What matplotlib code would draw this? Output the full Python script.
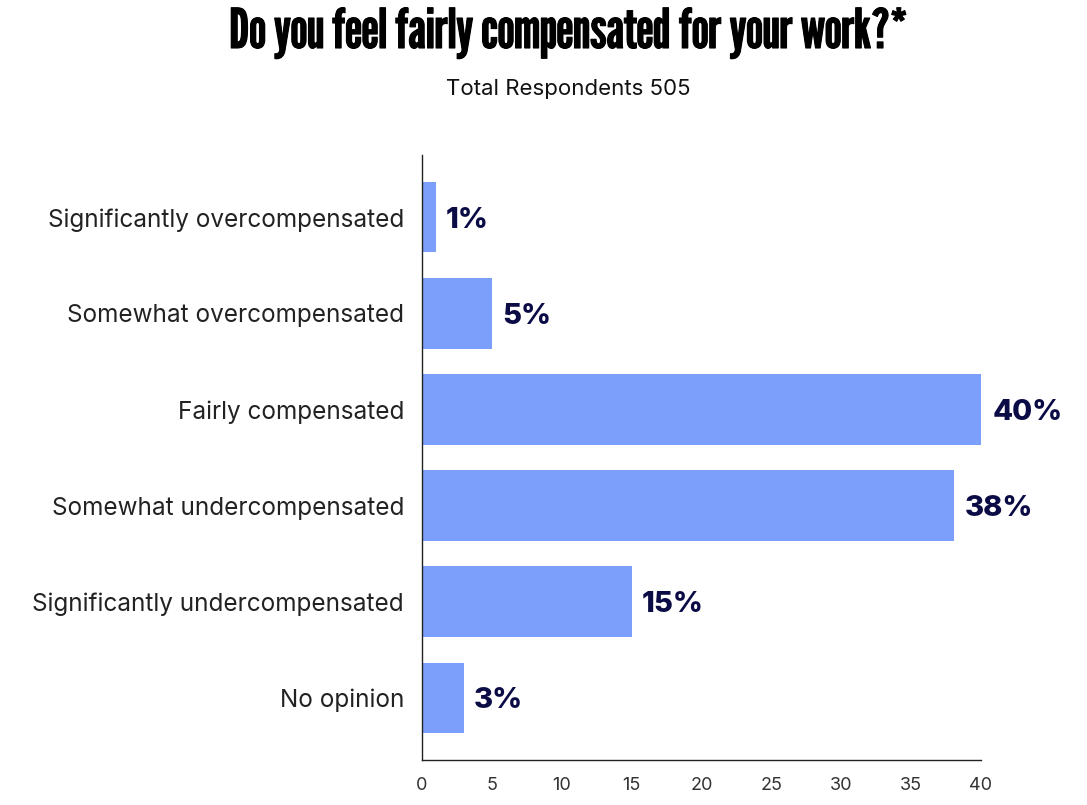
import matplotlib
matplotlib.use("Agg")
import matplotlib.pyplot as plt
import matplotlib.font_manager as fm
import matplotlib.patheffects as pe

categories = ["Significantly overcompensated", "Somewhat overcompensated", "Fairly compensated",
              "Somewhat undercompensated", "Significantly undercompensated", "No opinion"]
values = [1.0, 5.0, 40.1, 38.1, 15.0, 3.0]
labels = ["1%", "5%", "40%", "38%", "15%", "3%"]
xticks = [0, 5, 10, 15, 20, 25, 30, 35, 40]

title = "Do you feel fairly compensated for your work?*"
subtitle = "Total Respondents 505"

available = set(f.name for f in fm.fontManager.ttflist)
def pick(*cands):
    for c in cands:
        if c in available:
            return [c, "DejaVu Sans"]
    return ["DejaVu Sans"]

title_font = pick("League Gothic", "Anton")
body_font = pick("Inter")

fig = plt.figure(figsize=(10.87, 8.05), dpi=100)
ax = fig.add_axes([422/1087, 1-760/805, (981-422)/1087, (760-155)/805])

y = list(range(len(categories)))
ax.barh(y, values, height=0.73, color="#7B9FFB", zorder=2)
ax.set_ylim(5.65, -0.65)
ax.set_xlim(0, 40)
ax.set_yticks(y)
ax.set_yticklabels(categories, fontsize=17.5, family=body_font, color="#222222")
ax.set_xticks(xticks)
ax.set_xticklabels([str(t) for t in xticks], fontsize=13, family=body_font, color="#333333")
ax.tick_params(axis="both", length=0)
ax.tick_params(axis="y", pad=13)
ax.tick_params(axis="x", pad=12)
for s in ["top", "right"]:
    ax.spines[s].set_visible(False)
for s in ["left", "bottom"]:
    ax.spines[s].set_color("#222222")
    ax.spines[s].set_linewidth(1.0)

for yi, v, lab in zip(y, values, labels):
    ax.annotate(lab, (v, yi), xytext=(10, -3), textcoords="offset pixels",
                va="center", ha="left", fontsize=21, fontweight="heavy", family=body_font,
                color="#0B0B45", annotation_clip=False)

t = fig.text(568/1087, 1-48/805, title, ha="center", va="baseline", fontsize=40,
             family=title_font, color="#000000",
             path_effects=[pe.withStroke(linewidth=0.8, foreground="#000000")])
fig.canvas.draw()
w = t.get_window_extent(fig.canvas.get_renderer()).width
t.set_fontsize(40 * 678 / w)

fig.text(568/1087, 1-89/805, subtitle, ha="center", va="center", fontsize=16,
         family=body_font, color="#111111")

fig.savefig("out.png", dpi=100)
